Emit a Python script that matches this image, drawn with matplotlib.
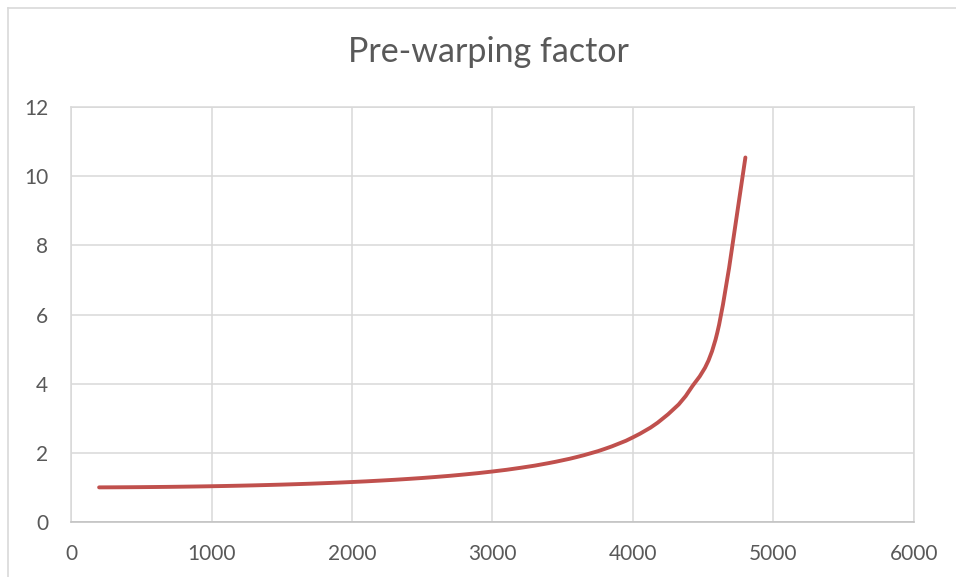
import matplotlib.pyplot as plt
from matplotlib.path import Path
from matplotlib.patches import PathPatch
from matplotlib.lines import Line2D
import numpy as np

# frequency (Hz) and pre-warping factor
freq = [200, 400, 600, 800, 1000, 1200, 1400, 1600, 1800, 2000, 2200, 2400,
        2600, 2800, 3000, 3200, 3400, 3600, 3800, 4000, 4200, 4400, 4600, 4800]
factor = [1.0013, 1.0053, 1.0120, 1.0216, 1.0343, 1.0502, 1.0699, 1.0937,
          1.1222, 1.1563, 1.1969, 1.2455, 1.3037, 1.3743, 1.4604, 1.5674,
          1.7030, 1.8790, 2.1157, 2.4491, 2.9518, 3.7924, 5.4776, 10.5404]

x_ticks = [0, 1000, 2000, 3000, 4000, 5000, 6000]
y_ticks = [0, 2, 4, 6, 8, 10, 12]

plt.rcParams['font.family'] = ['Lato', 'DejaVu Sans']

fig = plt.figure(figsize=(9.56, 5.77), dpi=100)
ax = fig.add_axes([71 / 956, 1 - 522 / 577, (914 - 71) / 956, (522 - 107) / 577])


def smooth_path(xs, ys):
	# excel style smoothed line: cubic bezier through every point
	pts = np.column_stack([xs, ys]).astype(float)
	n = len(pts)
	verts = [pts[0]]
	codes = [Path.MOVETO]
	for i in range(n - 1):
		p0 = pts[max(i - 1, 0)]
		p1 = pts[i]
		p2 = pts[i + 1]
		p3 = pts[min(i + 2, n - 1)]
		c1 = p1 + (p2 - p0) / 6.0
		c2 = p2 - (p3 - p1) / 6.0
		verts += [c1, c2, p2]
		codes += [Path.CURVE4] * 3
	return Path(verts, codes)


ax.add_patch(PathPatch(smooth_path(freq, factor), facecolor='none',
                       edgecolor='#C0504D', linewidth=2.8,
                       capstyle='round', joinstyle='round', zorder=3))

ax.set_xlim(0, 6000)
ax.set_ylim(0, 12)
ax.set_xticks(x_ticks)
ax.set_yticks(y_ticks)
ax.grid(True, color='#D9D9D9', linewidth=1.1)
ax.set_axisbelow(True)
for side in ['top', 'right', 'left']:
	ax.spines[side].set_color('#D9D9D9')
	ax.spines[side].set_linewidth(1.1)
ax.spines['bottom'].set_color('#BFBFBF')
ax.spines['bottom'].set_linewidth(1.1)
ax.tick_params(length=0, labelsize=15, labelcolor='#595959')
ax.tick_params(axis='x', pad=16)
ax.tick_params(axis='y', pad=16.5)

fig.text(488 / 956, 1 - 52 / 577, 'Pre-warping factor', ha='center', va='center',
         fontsize=24.5, color='#595959')

# chart frame (cropped on right and bottom)
fig.add_artist(Line2D([7.5 / 956, 7.5 / 956], [0, 1 - 7.5 / 577], color='#D9D9D9', linewidth=1.2))
fig.add_artist(Line2D([7.5 / 956, 1], [1 - 7.5 / 577, 1 - 7.5 / 577], color='#D9D9D9', linewidth=1.2))

plt.savefig('out.png', dpi=100)
